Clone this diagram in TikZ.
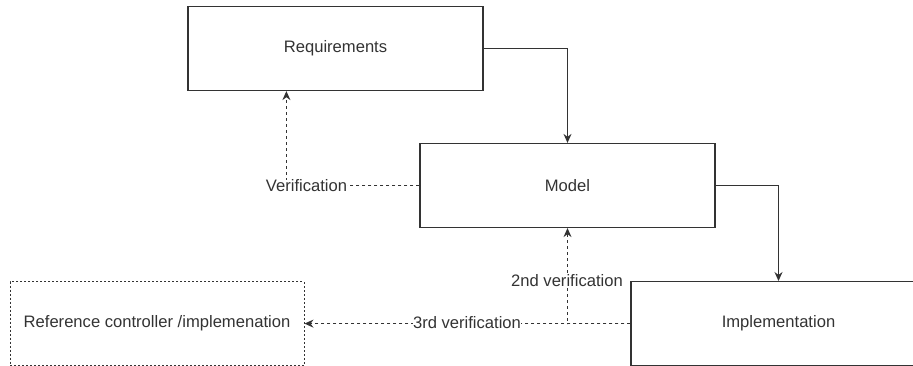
\documentclass[tikz,border=0pt]{standalone}
\usepackage{fontspec}
\setmainfont{Liberation Sans}
\usetikzlibrary{arrows.meta}
\definecolor{ink}{HTML}{333333}
\begin{document}
\begin{tikzpicture}[x=1pt,y=-1pt,
  every node/.style={font=\fontsize{16.6}{19}\selectfont, text=ink},
  box/.style={draw=ink, line width=1.2pt, minimum width=295pt, minimum height=84pt, inner sep=0pt},
  refbox/.style={box, line width=1pt, dash pattern=on 2pt off 2pt},
  flow/.style={draw=ink, line width=1.1pt, -{Stealth[length=9pt,width=8pt]}},
  check/.style={flow, line width=1pt, dash pattern=on 3pt off 3pt},
  tag/.style={fill=white, inner sep=0.3pt}]
\useasboundingbox (0,0) rectangle (913,365);
\clip (0,0) rectangle (913,365);

% blocks (the lower two run on past the bottom edge)
\node[box] (req) at (335.5,48.5) {Requirements};
\node[box] (model) at (567.5,185.5) {Model};
\node[box] (impl) at (778.5,323.6) {Implementation};
\node[refbox, minimum width=294pt] (ref) at (157,323.6) {Reference controller /implemenation};

% development flow
\draw[flow] (req.east) -| (model.north);
\draw[flow] (model.east) -| (impl.north);

% verification paths
\draw[check] (model.west) -| ([xshift=99pt]req.south west);
\draw[check] (impl.west) -- (ref.east);
\draw[check] (impl.west) -| (model.south);

% labels on the verification paths
\node[tag] (verif) at (306.5,186) {Verification};
\node[tag] (third) at (467,323) {3rd verification};
\node[tag] (second) at (567,281) {2nd verification};
\end{tikzpicture}
\end{document}
